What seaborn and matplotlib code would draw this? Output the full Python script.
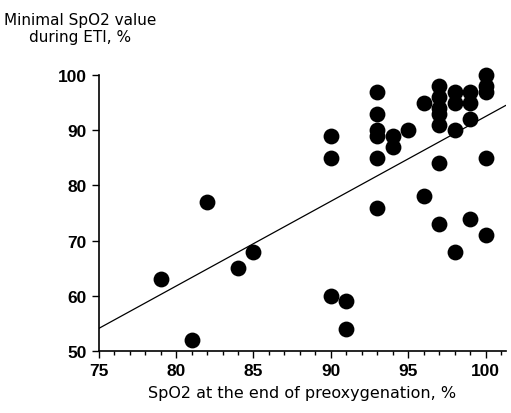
import numpy as np
import pandas as pd
import matplotlib
matplotlib.use("Agg")
import matplotlib.pyplot as plt
from matplotlib.ticker import MultipleLocator
import seaborn as sns

# SpO2 at end of preoxygenation vs minimal SpO2 during ETI
spo2_preox = [79, 81, 82, 84, 85,
              90, 90, 90, 91, 91,
              93, 93, 93, 93, 93, 93,
              94, 94, 95, 96, 96,
              97, 97, 97, 97, 97, 97, 97,
              98, 98, 98, 98,
              99, 99, 99, 99,
              100, 100, 100, 100, 100]
spo2_min = [63, 52, 77, 65, 68,
            89, 85, 60, 59, 54,
            97, 93, 90, 89, 85, 76,
            89, 87, 90, 95, 78,
            98, 96, 94, 93, 91, 84, 73,
            97, 95, 90, 68,
            97, 95, 92, 74,
            100, 98, 97, 85, 71]

df = pd.DataFrame({"preox": spo2_preox, "minimal": spo2_min})

sns.set_style("ticks")
plt.rcParams['font.family'] = ['DejaVu Sans']
plt.rcParams['text.color'] = 'black'
plt.rcParams['axes.labelcolor'] = 'black'

fig = plt.figure(figsize=(5.11, 4.14), dpi=100)
ax = fig.add_axes([0.193, 0.150, 0.797, 0.666])
ax.set_xlim(75, 101.3)
ax.set_ylim(50, 100)

sns.regplot(data=df, x="preox", y="minimal", ax=ax, ci=None, truncate=False,
            scatter_kws={"s": 130, "color": "black", "alpha": 1, "linewidths": 0,
                         "clip_on": False, "zorder": 3},
            line_kws={"color": "black", "lw": 0.9})

ax.set_xlim(75, 101.3)
ax.set_ylim(50, 100)
ax.set_xticks([75, 80, 85, 90, 95, 100])
ax.xaxis.set_minor_locator(MultipleLocator(1))
ax.set_yticks([50, 60, 70, 80, 90, 100])
for lab in ax.get_xticklabels() + ax.get_yticklabels():
    lab.set_fontweight("bold")
    lab.set_fontsize(12.5)
    lab.set_family("Liberation Sans")
    lab.set_color("black")
ax.tick_params(axis="both", which="major", direction="out", length=5, width=1, colors="black")
ax.tick_params(axis="x", which="minor", direction="out", length=3, width=1, colors="black")
for s in ["left", "bottom"]:
    ax.spines[s].set_linewidth(1.2)
    ax.spines[s].set_color("black")
sns.despine(ax=ax)

ax.set_xlabel("SpO2 at the end of preoxygenation, %", fontsize=11.5, labelpad=5, color="black")
ax.set_ylabel("")
fig.text(0.157, 0.93, "Minimal SpO2 value\nduring ETI, %", ha="center", va="center",
         fontsize=11, linespacing=1.2, color="black")

fig.savefig("out.png", dpi=100)
